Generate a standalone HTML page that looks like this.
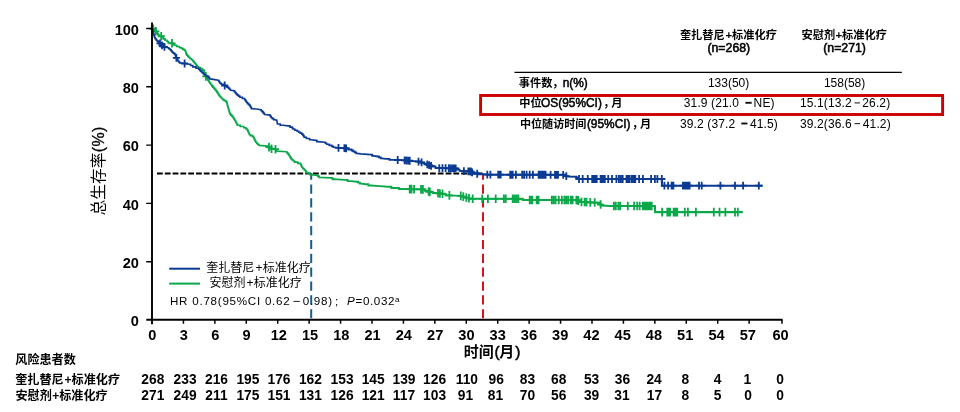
<!DOCTYPE html>
<html lang="zh-CN">
<head>
<meta charset="utf-8">
<title>Kaplan-Meier OS</title>
<style>html,body{margin:0;padding:0;background:#fff}body{width:960px;height:412px;overflow:hidden;font-family:"Liberation Sans","Noto Sans CJK SC",sans-serif}svg{display:block;will-change:transform}text{font-family:"Liberation Sans","Noto Sans CJK SC",sans-serif}</style>
</head>
<body>
<svg width="960" height="412" viewBox="0 0 960 412" font-family="'Liberation Sans', 'Noto Sans CJK SC', sans-serif">
<title>总生存率 Kaplan-Meier 曲线：奎扎替尼+标准化疗 对比 安慰剂+标准化疗</title>
<desc>总生存率(%) 随 时间(月) 变化。事件数，n(%)：133(50) 对 158(58)；中位OS(95%CI)，月：31.9 (21.0−NE) 对 15.1(13.2−26.2)；中位随访时间(95%CI)，月：39.2 (37.2−41.5) 对 39.2(36.6−41.2)。HR 0.78(95%CI 0.62−0.98)；P=0.032。风险患者数见下表。</desc>
<rect width="960" height="412" fill="#fff"/>
<path d="M157 173.4H483.5" stroke="#000" stroke-width="2" stroke-dasharray="5.8 2" fill="none"/>
<path d="M311.2 173V320" stroke="#12608e" stroke-width="2" stroke-dasharray="9.2 4.65" stroke-dashoffset="2.35" fill="none"/>
<path d="M483 174.6V320" stroke="#cf1620" stroke-width="2" stroke-dasharray="9.2 4.65" stroke-dashoffset="3.95" fill="none"/>
<!-- curves -->
<path d="M152.3 28.5L153 28.6H153.95V30.1H154.9H155.38V31.35H156.32V32.6H156.8H157.23V33.67H158.1V34.73H158.97V35.8H159.4L161.9 36.4H162.38V37.65H163.32V38.9H163.8H165.05V40.2H166.3H166.93V41.45H168.18V42.7H168.8L172 43.3H172.78V44.25H174.32V45.2H175.1H176.7V46.5H178.3H179.25V47.45H181.15V48.4H182.1H182.88V49.35H184.43V50.3H185.2H185.42V51.57H185.85V52.83H186.28V54.1H186.5H186.92V55.13H187.75V56.17H188.58V57.2H189H189.8V58.45H191.4V59.7H192.2H192.72V60.97H193.75V62.23H194.78V63.5H195.3H195.72V64.57H196.55V65.63H197.38V66.7H197.8H198.6V67.65H200.2V68.6H201H202.45V70.1H203.9H204.06V71.15H204.38V72.2H204.69V73.25H205.01V74.3H205.32V75.35H205.64V76.4H205.8H206.22V77.67H207.05V78.93H207.88V80.2H208.3H208.62V81.23H209.25V82.27H209.88V83.3H210.2H210.72V84.57H211.75V85.83H212.78V87.1H213.3H213.83V88.37H214.9V89.63H215.97V90.9H216.5H216.82V91.92H217.46V92.94H218.1V93.96H218.74V94.98H219.38V96H219.7H220.32V97.23H221.55V98.47H222.78V99.7H223.4H224.2V100.65H225.8V101.6H226.6H226.73V102.62H226.99V103.64H227.25V104.66H227.51V105.68H227.77V106.7H227.9H228.06V107.73H228.37V108.76H228.69V109.79H229V110.81H229.31V111.84H229.63V112.87H229.94V113.9H230.1H230.72V115.15H231.97V116.4H232.6H233.02V117.67H233.85V118.93H234.68V120.2H235.1H235.36V121.2H235.88V122.2H236.4V123.2H236.92V124.2H237.44V125.2H237.7H240.2V126.5H242.7H243.8V127.75H246V129H247.1H247.36V130.14H247.88V131.28H248.4V132.42H248.92V133.56H249.44V134.7H249.7H250.62V135.65H252.48V136.6H253.4H253.64V137.7H254.11V138.8H254.59V139.9H255.06V141H255.3H255.78V142.25H256.73V143.5H257.2H257.82V144.45H259.07V145.4H259.7L267.9 146.1H268.55V147.35H269.85V148.6H270.5L275.5 149.2H275.82V150.15H276.48V151.1H276.8L286.4 151.8H286.82V152.73H287.65V153.67H288.48V154.6H288.9H289.22V155.7H289.88V156.8H290.52V157.9H291.17V159H291.5H292.12V160.03H293.35V161.07H294.58V162.1H295.2H297.75V163.4H300.3H300.62V164.67H301.25V165.93H301.88V167.2H302.2H302.82V168.45H304.07V169.7H304.7H305.12V170.77H305.95V171.83H306.78V172.9H307.2H308.15V173.8H310.05V174.7H311" fill="none" stroke="#0ba84a" stroke-width="1.6" stroke-linejoin="miter" stroke-linecap="butt"/>
<path d="M311 174.7L317.3 175.4H317.93V176.35H319.18V177.3H319.8L330.6 177.9H332.5V179.2H334.4L344.4 179.8H347.6V181.1H350.8L357.1 181.7H358.05V182.65H359.95V183.6H360.9L365.9 184.2H368.4V185.5H370.9L379.8 186.1L387.6 186.7H391.35V188H395.1H398.9V189H402.7L422.9 189.4H424.8V190.9H426.7H428.6V192.1H430.5H433V193H435.5L443.1 193.8H445.6V195.3H448.1L460.8 195.9H462.38V196.85H465.52V197.8H467.1" fill="none" stroke="#0ba84a" stroke-width="1.85" stroke-linejoin="miter" stroke-linecap="butt"/>
<path d="M467.1 197.8H469V198.8H470.9L521.5 198.8H522.8V200H524.1L577.1 200H578.05V200.95H579.95V201.9H580.9L598.5 202.7H599.03V203.63H600.1V204.57H601.17V205.5H601.7L609.9 206L654.9 206L655.1 212.1L742.8 212.1" fill="none" stroke="#0ba84a" stroke-width="2.1" stroke-linejoin="miter" stroke-linecap="butt"/>
<path d="M153.2 24.46V33.06M149.6 28.76H156.8M155.8 26.98V35.58M152.2 31.28H159.4M161.2 31.93V40.53M157.6 36.23H164.8M172 39V47.6M168.4 43.3H175.6M205.8 72.1V80.7M202.2 76.4H209.4M269 142.86V151.46M265.4 147.16H272.6M271.5 144.42V153.02M267.9 148.72H275.1M275.5 144.9V153.5M271.9 149.2H279.1M409.7 184.84V193.44M406.1 189.14H413.3M411.5 184.87V193.47M407.9 189.17H415.1M414.1 184.93V193.53M410.5 189.23H417.7M421 185.06V193.66M417.4 189.36H424.6M422.9 185.1V193.7M419.3 189.4H426.5M428.6 187.2V195.8M425 191.5H432.2M429.8 187.58V196.18M426.2 191.88H433.4M438 188.96V197.56M434.4 193.26H441.6M439.9 189.16V197.76M436.3 193.46H443.5M442.5 189.44V198.04M438.9 193.74H446.1M449.4 191.06V199.66M445.8 195.36H453M460.8 191.6V200.2M457.2 195.9H464.4M463.3 192.35V200.95M459.7 196.65H466.9M466.4 193.29V201.89M462.8 197.59H470M469 194V202.6M465.4 198.3H472.6M472.7 194.5V203.1M469.1 198.8H476.3M482.2 194.5V203.1M478.6 198.8H485.8M487.9 194.5V203.1M484.3 198.8H491.5M495.7 194.5V203.1M492.1 198.8H499.3M503.9 194.5V203.1M500.3 198.8H507.5M505.8 194.5V203.1M502.2 198.8H509.4M512.7 194.5V203.1M509.1 198.8H516.3M514.6 194.5V203.1M511 198.8H518.2M516.5 194.5V203.1M512.9 198.8H520.1M518.4 194.5V203.1M514.8 198.8H522M529.7 195.7V204.3M526.1 200H533.3M531 195.7V204.3M527.4 200H534.6M532.3 195.7V204.3M528.7 200H535.9M536.7 195.7V204.3M533.1 200H540.3M537.9 195.7V204.3M534.3 200H541.5M538.6 195.7V204.3M535 200H542.2M551.8 195.7V204.3M548.2 200H555.4M553.7 195.7V204.3M550.1 200H557.3M555.6 195.7V204.3M552 200H559.2M558.8 195.7V204.3M555.2 200H562.4M561.9 195.7V204.3M558.3 200H565.5M564.4 195.7V204.3M560.8 200H568M566.3 195.7V204.3M562.7 200H569.9M568.2 195.7V204.3M564.6 200H571.8M570.8 195.7V204.3M567.2 200H574.4M572.6 195.7V204.3M569 200H576.2M576.4 195.7V204.3M572.8 200H580M577.5 195.9V204.5M573.9 200.2H581.1M578.3 196.3V204.9M574.7 200.6H581.9M581.5 197.63V206.23M577.9 201.93H585.1M584.6 197.77V206.37M581 202.07H588.2M586.5 197.85V206.45M582.9 202.15H590.1M590.3 198.03V206.63M586.7 202.33H593.9M594.7 198.23V206.83M591.1 202.53H598.3M600.6 200.24V208.84M597 204.54H604.2M613.9 201.7V210.3M610.3 206H617.5M615.8 201.7V210.3M612.2 206H619.4M618.3 201.7V210.3M614.7 206H621.9M620.2 201.7V210.3M616.6 206H623.8M627.8 201.7V210.3M624.2 206H631.4M634.1 201.7V210.3M630.5 206H637.7M637.2 201.7V210.3M633.6 206H640.8M639.7 201.7V210.3M636.1 206H643.3M642.9 201.7V210.3M639.3 206H646.5M644.2 201.7V210.3M640.6 206H647.8M645.5 201.7V210.3M641.9 206H649.1M646.8 201.7V210.3M643.2 206H650.4M648.1 201.7V210.3M644.5 206H651.7M649.4 201.7V210.3M645.8 206H653M650.7 201.7V210.3M647.1 206H654.3M651.7 201.7V210.3M648.1 206H655.3M662.1 207.8V216.4M658.5 212.1H665.7M667.3 207.8V216.4M663.7 212.1H670.9M668.7 207.8V216.4M665.1 212.1H672.3M670.1 207.8V216.4M666.5 212.1H673.7M673.6 207.8V216.4M670 212.1H677.2M675 207.8V216.4M671.4 212.1H678.6M676.4 207.8V216.4M672.8 212.1H680M677.2 207.8V216.4M673.6 212.1H680.8M684.8 207.8V216.4M681.2 212.1H688.4M687.9 207.8V216.4M684.3 212.1H691.5M695.9 207.8V216.4M692.3 212.1H699.5M713.8 207.8V216.4M710.2 212.1H717.4M719.5 207.8V216.4M715.9 212.1H723.1M725.4 207.8V216.4M721.8 212.1H729M735 207.8V216.4M731.4 212.1H738.6M737.8 207.8V216.4M734.2 212.1H741.4" fill="none" stroke="#0ba84a" stroke-width="1.8"/>
<path d="M152.3 28.5L153 29.5L153.7 33.9H153.9V35.17H154.3V36.43H154.7V37.7H154.9H155.38V38.95H156.32V40.2H156.8H157.28V41.15H158.22V42.1H158.7H159.17V43.05H160.12V44H160.6H161.07V44.95H162.02V45.9H162.5H163.75V47.1H165L168.2 47.8H168.82V48.75H170.07V49.7H170.7H171.17V50.95H172.12V52.2H172.6H173.22V53.15H174.47V54.1H175.1H175.32V55.37H175.75V56.63H176.18V57.9H176.4H176.72V58.93H177.35V59.97H177.98V61H178.3H178.78V61.95H179.72V62.9H180.2L184.6 63.5L189.6 64.2H190.65V65.55H192.75V66.9H193.8H196V68.2H198.2H198.73V69.27H199.8V70.33H200.87V71.4H201.4H201.92V72.43H202.95V73.47H203.98V74.5H204.5H205.3V75.45H206.9V76.4H207.7H208.32V77.65H209.57V78.9H210.2L214.6 79.6L218.4 80.2H218.72V81.23H219.35V82.27H219.98V83.3H220.3H221.25V84.25H223.15V85.2H224.1H225.05V86.15H226.95V87.1H227.9H228.42V88.17H229.45V89.23H230.48V90.3H231L234.2 90.9H234.62V91.97H235.45V93.03H236.28V94.1H236.7H237.33V95.13H238.6V96.17H239.87V97.2H240.5H242.4V98.5H244.3H244.72V99.77H245.55V101.03H246.38V102.3H246.8H247.32V103.33H248.35V104.37H249.38V105.4H249.9H250.22V106.47H250.85V107.53H251.48V108.6H251.8L258.1 109.2L260.7 109.8H261.17V110.73H262.1V111.67H263.03V112.6H263.5H263.82V113.55H264.48V114.5H264.8L269.8 115.1H270.27V116.4H271.22V117.7H271.7H272.35V118.65H273.65V119.6H274.3L276.8 120.2L277.4 124H280.25V125.2H283.1L288.1 125.9H290V127.1H291.9H292.22V128.05H292.88V129H293.2H294.75V130.3H296.3H297.1V131.25H298.7V132.2H299.5H300.27V133.15H301.82V134.1H302.6H302.92V135.13H303.55V136.17H304.18V137.2H304.5H306.4V138.5H308.3H309.6V139.7H310.9L315.9 140.4H316.85V141.6H317.8L324.7 142.3H325.35V143.25H326.65V144.2H327.3H329.15V145.4H331H331.8V146.35H333.4V147.3H334.2L338.6 147.9" fill="none" stroke="#0a3a92" stroke-width="1.6" stroke-linejoin="miter" stroke-linecap="butt"/>
<path d="M338.6 147.9L345.7 148.2H348.25V149.5H350.8H351.57V150.45H353.12V151.4H353.9H354.7V152.35H356.3V153.3H357.1L360.9 153.9L370.9 154.6H372.2V155.8H373.5L377.9 156.5H378.85V157.4H380.75V158.3H381.7L386.3 158.9H389.45V159.8H392.6L402.7 160.2L410.3 160.8L417.9 161.5H420.4V162.7H422.9H424.15V163.65H426.65V164.6H427.9H429.17V165.55H431.72V166.5H433H435.5V168H438L455.7 168.4H456.98V169.65H459.53V170.9H460.8L470.9 171.5H471.52V172.45H472.77V173.4H473.4" fill="none" stroke="#0a3a92" stroke-width="1.85" stroke-linejoin="miter" stroke-linecap="butt"/>
<path d="M473.4 173.4H478.45V174.3H483.5L490 174.7L564.4 174.8H565.05V175.65H566.35V176.5H567L575.8 176.7H576.42V177.85H577.67V179H578.3L661.8 179L662.1 185.7L762.7 185.7" fill="none" stroke="#0a3a92" stroke-width="2.1" stroke-linejoin="miter" stroke-linecap="butt"/>
<path d="M160 39.5V47.3M156.4 43.4H163.6M162 41.5V49.3M158.4 45.4H165.6M164.4 42.91V50.71M160.8 46.81H168M176.4 54V61.8M172.8 57.9H180M184.6 59.6V67.4M181 63.5H188.2M224.7 81.6V89.4M221.1 85.5H228.3M338.5 143.99V151.79M334.9 147.89H342.1M344.4 144.25V152.05M340.8 148.15H348M346.1 144.4V152.2M342.5 148.3H349.7M397.7 156.1V163.9M394.1 160H401.3M404.6 156.45V164.25M401 160.35H408.2M406.5 156.6V164.4M402.9 160.5H410.1M408.4 156.75V164.55M404.8 160.65H412M409.7 156.85V164.65M406.1 160.75H413.3M418.5 157.74V165.54M414.9 161.64H422.1M421.6 158.49V166.29M418 162.39H425.2M427.3 160.47V168.27M423.7 164.37H430.9M429.2 161.18V168.98M425.6 165.08H432.8M431.1 161.89V169.69M427.5 165.79H434.7M439.3 164.13V171.93M435.7 168.03H442.9M442.5 164.2V172M438.9 168.1H446.1M445.6 164.27V172.07M442 168.17H449.2M448.8 164.34V172.14M445.2 168.24H452.4M450.7 164.39V172.19M447.1 168.29H454.3M452.6 164.43V172.23M449 168.33H456.2M454.4 164.47V172.27M450.8 168.37H458M455.7 164.5V172.3M452.1 168.4H459.3M463.9 167.18V174.98M460.3 171.08H467.5M468.3 167.45V175.25M464.7 171.35H471.9M469.6 167.52V175.32M466 171.42H473.2M470.9 167.6V175.4M467.3 171.5H474.5M472.1 168.51V176.31M468.5 172.41H475.7M477.2 169.84V177.64M473.6 173.74H480.8M487.3 170.63V178.43M483.7 174.53H490.9M490.4 170.8V178.6M486.8 174.7H494M498.2 170.81V178.61M494.6 174.71H501.8M499.5 170.81V178.61M495.9 174.71H503.1M500.7 170.81V178.61M497.1 174.71H504.3M510.2 170.83V178.63M506.6 174.73H513.8M511.5 170.83V178.63M507.9 174.73H515.1M512.7 170.83V178.63M509.1 174.73H516.3M515.9 170.83V178.63M512.3 174.73H519.5M522.2 170.84V178.64M518.6 174.74H525.8M524.1 170.85V178.65M520.5 174.75H527.7M526.6 170.85V178.65M523 174.75H530.2M529.7 170.85V178.65M526.1 174.75H533.3M532.9 170.86V178.66M529.3 174.76H536.5M538.6 170.87V178.67M535 174.77H542.2M540 170.87V178.67M536.4 174.77H543.6M541.4 170.87V178.67M537.8 174.77H545M542.8 170.87V178.67M539.2 174.77H546.4M544.2 170.87V178.67M540.6 174.77H547.8M545.6 170.87V178.67M542 174.77H549.2M550.6 170.88V178.68M547 174.78H554.2M555 170.89V178.69M551.4 174.79H558.6M556.5 170.89V178.69M552.9 174.79H560.1M558 170.89V178.69M554.4 174.79H561.6M563.2 170.9V178.7M559.6 174.8H566.8M566.3 172.14V179.94M562.7 176.04H569.9M579 175.1V182.9M575.4 179H582.6M582.7 175.1V182.9M579.1 179H586.3M587.8 175.1V182.9M584.2 179H591.4M592.2 175.1V182.9M588.6 179H595.8M593.7 175.1V182.9M590.1 179H597.3M595.2 175.1V182.9M591.6 179H598.8M596.7 175.1V182.9M593.1 179H600.3M600.6 175.1V182.9M597 179H604.2M602 175.1V182.9M598.4 179H605.6M603.4 175.1V182.9M599.8 179H607M604.8 175.1V182.9M601.2 179H608.4M608.2 175.1V182.9M604.6 179H611.8M612 175.1V182.9M608.4 179H615.6M616.4 175.1V182.9M612.8 179H620M618.9 175.1V182.9M615.3 179H622.5M620.8 175.1V182.9M617.2 179H624.4M622.7 175.1V182.9M619.1 179H626.3M626.5 175.1V182.9M622.9 179H630.1M627.9 175.1V182.9M624.3 179H631.5M629.3 175.1V182.9M625.7 179H632.9M631.5 175.1V182.9M627.9 179H635.1M632.9 175.1V182.9M629.3 179H636.5M634.3 175.1V182.9M630.7 179H637.9M635.3 175.1V182.9M631.7 179H638.9M639.1 175.1V182.9M635.5 179H642.7M642.9 175.1V182.9M639.3 179H646.5M651.1 175.1V182.9M647.5 179H654.7M654.9 175.1V182.9M651.3 179H658.5M657.4 175.1V182.9M653.8 179H661M661.8 175.1V182.9M658.2 179H665.4M664.4 181.8V189.6M660.8 185.7H668M668.1 181.8V189.6M664.5 185.7H671.7M671.6 181.8V189.6M668 185.7H675.2M673.4 181.8V189.6M669.8 185.7H677M682.9 181.8V189.6M679.3 185.7H686.5M684.3 181.8V189.6M680.7 185.7H687.9M685.7 181.8V189.6M682.1 185.7H689.3M687.1 181.8V189.6M683.5 185.7H690.7M688.5 181.8V189.6M684.9 185.7H692.1M689.6 181.8V189.6M686 185.7H693.2M699 181.8V189.6M695.4 185.7H702.6M701.7 181.8V189.6M698.1 185.7H705.3M720.4 181.8V189.6M716.8 185.7H724M735 181.8V189.6M731.4 185.7H738.6M743.1 181.8V189.6M739.5 185.7H746.7M758.8 181.8V189.6M755.2 185.7H762.4" fill="none" stroke="#0a3a92" stroke-width="1.8"/>
<path d="M152 22.4V324.3" stroke="#000" stroke-width="1.9" fill="none"/>
<path d="M146.3 319.7H782.6" stroke="#000" stroke-width="1.9" fill="none"/>
<path d="M146.2 261.7H152M146.2 203.4H152M146.2 145.1H152M146.2 86.8H152M146.2 28.5H152" stroke="#000" stroke-width="1.4" fill="none"/>
<path d="M183.43 319.7V323.8M214.86 319.7V323.8M246.28 319.7V323.8M277.71 319.7V323.8M309.14 319.7V323.8M340.57 319.7V323.8M372 319.7V323.8M403.42 319.7V323.8M434.85 319.7V323.8M466.28 319.7V323.8M497.71 319.7V323.8M529.14 319.7V323.8M560.56 319.7V323.8M591.99 319.7V323.8M623.42 319.7V323.8M654.85 319.7V323.8M686.28 319.7V323.8M717.7 319.7V323.8M749.13 319.7V323.8M782 319.7V323.8" stroke="#000" stroke-width="1.5" fill="none"/>
<text transform="translate(139 325.6) scale(1 1.06)" font-size="14.6" text-anchor="end" font-weight="bold">0</text>
<text transform="translate(139 268) scale(1 1.06)" font-size="14.6" text-anchor="end" font-weight="bold">20</text>
<text transform="translate(139 209.7) scale(1 1.06)" font-size="14.6" text-anchor="end" font-weight="bold">40</text>
<text transform="translate(139 151.4) scale(1 1.06)" font-size="14.6" text-anchor="end" font-weight="bold">60</text>
<text transform="translate(139 93.1) scale(1 1.06)" font-size="14.6" text-anchor="end" font-weight="bold">80</text>
<text transform="translate(139 34.8) scale(1 1.06)" font-size="14.6" text-anchor="end" font-weight="bold">100</text>
<text transform="translate(152.4 340.4) scale(1 1.06)" font-size="14.6" text-anchor="middle" font-weight="bold">0</text>
<text transform="translate(183.83 340.4) scale(1 1.06)" font-size="14.6" text-anchor="middle" font-weight="bold">3</text>
<text transform="translate(215.26 340.4) scale(1 1.06)" font-size="14.6" text-anchor="middle" font-weight="bold">6</text>
<text transform="translate(246.68 340.4) scale(1 1.06)" font-size="14.6" text-anchor="middle" font-weight="bold">9</text>
<text transform="translate(278.81 340.4) scale(1 1.06)" font-size="14.6" text-anchor="middle" font-weight="bold">12</text>
<text transform="translate(310.07 340.4) scale(1 1.06)" font-size="14.6" text-anchor="middle" font-weight="bold">15</text>
<text transform="translate(341.34 340.4) scale(1 1.06)" font-size="14.6" text-anchor="middle" font-weight="bold">18</text>
<text transform="translate(372.6 340.4) scale(1 1.06)" font-size="14.6" text-anchor="middle" font-weight="bold">21</text>
<text transform="translate(403.86 340.4) scale(1 1.06)" font-size="14.6" text-anchor="middle" font-weight="bold">24</text>
<text transform="translate(435.13 340.4) scale(1 1.06)" font-size="14.6" text-anchor="middle" font-weight="bold">27</text>
<text transform="translate(466.39 340.4) scale(1 1.06)" font-size="14.6" text-anchor="middle" font-weight="bold">30</text>
<text transform="translate(497.65 340.4) scale(1 1.06)" font-size="14.6" text-anchor="middle" font-weight="bold">33</text>
<text transform="translate(528.92 340.4) scale(1 1.06)" font-size="14.6" text-anchor="middle" font-weight="bold">36</text>
<text transform="translate(560.18 340.4) scale(1 1.06)" font-size="14.6" text-anchor="middle" font-weight="bold">39</text>
<text transform="translate(591.44 340.4) scale(1 1.06)" font-size="14.6" text-anchor="middle" font-weight="bold">42</text>
<text transform="translate(622.71 340.4) scale(1 1.06)" font-size="14.6" text-anchor="middle" font-weight="bold">45</text>
<text transform="translate(653.97 340.4) scale(1 1.06)" font-size="14.6" text-anchor="middle" font-weight="bold">48</text>
<text transform="translate(685.23 340.4) scale(1 1.06)" font-size="14.6" text-anchor="middle" font-weight="bold">51</text>
<text transform="translate(716.49 340.4) scale(1 1.06)" font-size="14.6" text-anchor="middle" font-weight="bold">54</text>
<text transform="translate(747.76 340.4) scale(1 1.06)" font-size="14.6" text-anchor="middle" font-weight="bold">57</text>
<text transform="translate(780.6 340.4) scale(1 1.06)" font-size="14.6" text-anchor="middle" font-weight="bold">60</text>
<g aria-label="时间(月)" fill="#000">
<text x="463.8" y="356.5" font-size="15" font-weight="bold">时间</text>
<text x="494.54" y="356.5" font-size="15.5" stroke="#000" stroke-width="0.5">(</text>
<text x="499.3" y="356.5" font-size="15" font-weight="bold">月</text>
<text x="515.3" y="356.5" font-size="15.5" stroke="#000" stroke-width="0.5">)</text>
</g>
<g transform="translate(104.2 170.8) rotate(-90)">
<g aria-label="总生存率(%)" fill="#000">
<text x="-44.8" y="0" font-size="15.8">总生存率</text>
<text x="18.48" y="0" font-size="16" letter-spacing="0.45" stroke="#000" stroke-width="0.3">(%)</text>
</g>
</g>
<path d="M169.2 268.7H200" stroke="#0a3a92" stroke-width="2" fill="none"/>
<path d="M169.2 283.6H200" stroke="#0ba84a" stroke-width="2" fill="none"/>
<g aria-label="奎扎替尼+标准化疗" fill="#000">
<text x="206.3" y="271.9" font-size="12">奎扎替尼</text>
<text x="255.5" y="271.9" font-size="12" letter-spacing="0.2">+</text>
<text x="262.7" y="271.9" font-size="12">标准化疗</text>
</g>
<g aria-label="安慰剂+标准化疗" fill="#000">
<text x="209.6" y="286.7" font-size="12">安慰剂</text>
<text x="246.4" y="286.7" font-size="12" letter-spacing="0.3">+</text>
<text x="253.7" y="286.7" font-size="12">标准化疗</text>
</g>
<text x="170" y="305.4" font-size="11.6" letter-spacing="0.75">HR 0.78(95%CI 0.62</text>
<path d="M293.4 301.4H299.8" stroke="#222" stroke-width="1.0" fill="none"/>
<text x="302.7" y="305.4" font-size="11.6" letter-spacing="0.75">0.98)</text>
<text x="335.1" y="304.6" font-size="11.6">;</text>
<text x="346.9" y="305.4" font-size="11.6" font-style="italic">P</text>
<text x="355.6" y="305.4" font-size="11.6" letter-spacing="0.6">=0.032</text>
<text x="395" y="302.2" font-size="8">a</text>
<g aria-label="风险患者数" fill="#000">
<text x="15.3" y="364.4" font-size="12.1" font-weight="bold">风险患者数</text>
</g>
<g aria-label="奎扎替尼+标准化疗" fill="#000">
<text x="15.2" y="384.3" font-size="12.1" font-weight="bold">奎扎替尼</text>
<text x="64.6" y="384.3" font-size="12" font-weight="bold">+</text>
<text x="71.6" y="384.3" font-size="12.1" font-weight="bold">标准化疗</text>
</g>
<g aria-label="安慰剂+标准化疗" fill="#000">
<text x="15.5" y="399.8" font-size="12.1" font-weight="bold">安慰剂</text>
<text x="52.25" y="399.8" font-size="12" font-weight="bold">+</text>
<text x="59.2" y="399.8" font-size="12.1" font-weight="bold">标准化疗</text>
</g>
<text transform="translate(152.8 384) scale(1 1.12)" font-size="13.8" text-anchor="middle" font-weight="bold">268</text>
<text transform="translate(152.8 399.7) scale(1 1.12)" font-size="13.8" text-anchor="middle" font-weight="bold">271</text>
<text transform="translate(185.1 384) scale(1 1.12)" font-size="13.8" text-anchor="middle" font-weight="bold">233</text>
<text transform="translate(185.1 399.7) scale(1 1.12)" font-size="13.8" text-anchor="middle" font-weight="bold">249</text>
<text transform="translate(216.5 384) scale(1 1.12)" font-size="13.8" text-anchor="middle" font-weight="bold">216</text>
<text transform="translate(216.5 399.7) scale(1 1.12)" font-size="13.8" text-anchor="middle" font-weight="bold">211</text>
<text transform="translate(247.9 384) scale(1 1.12)" font-size="13.8" text-anchor="middle" font-weight="bold">195</text>
<text transform="translate(247.9 399.7) scale(1 1.12)" font-size="13.8" text-anchor="middle" font-weight="bold">175</text>
<text transform="translate(279 384) scale(1 1.12)" font-size="13.8" text-anchor="middle" font-weight="bold">176</text>
<text transform="translate(279 399.7) scale(1 1.12)" font-size="13.8" text-anchor="middle" font-weight="bold">151</text>
<text transform="translate(310.4 384) scale(1 1.12)" font-size="13.8" text-anchor="middle" font-weight="bold">162</text>
<text transform="translate(310.4 399.7) scale(1 1.12)" font-size="13.8" text-anchor="middle" font-weight="bold">131</text>
<text transform="translate(342.1 384) scale(1 1.12)" font-size="13.8" text-anchor="middle" font-weight="bold">153</text>
<text transform="translate(342.1 399.7) scale(1 1.12)" font-size="13.8" text-anchor="middle" font-weight="bold">126</text>
<text transform="translate(373.2 384) scale(1 1.12)" font-size="13.8" text-anchor="middle" font-weight="bold">145</text>
<text transform="translate(373.2 399.7) scale(1 1.12)" font-size="13.8" text-anchor="middle" font-weight="bold">121</text>
<text transform="translate(404 384) scale(1 1.12)" font-size="13.8" text-anchor="middle" font-weight="bold">139</text>
<text transform="translate(404 399.7) scale(1 1.12)" font-size="13.8" text-anchor="middle" font-weight="bold">117</text>
<text transform="translate(434.6 384) scale(1 1.12)" font-size="13.8" text-anchor="middle" font-weight="bold">126</text>
<text transform="translate(434.6 399.7) scale(1 1.12)" font-size="13.8" text-anchor="middle" font-weight="bold">103</text>
<text transform="translate(466.9 384) scale(1 1.12)" font-size="13.8" text-anchor="middle" font-weight="bold">110</text>
<text transform="translate(465.4 399.7) scale(1 1.12)" font-size="13.8" text-anchor="middle" font-weight="bold">91</text>
<text transform="translate(496.25 384) scale(1 1.12)" font-size="13.8" text-anchor="middle" font-weight="bold">96</text>
<text transform="translate(495.4 399.7) scale(1 1.12)" font-size="13.8" text-anchor="middle" font-weight="bold">81</text>
<text transform="translate(527.5 384) scale(1 1.12)" font-size="13.8" text-anchor="middle" font-weight="bold">83</text>
<text transform="translate(527.5 399.7) scale(1 1.12)" font-size="13.8" text-anchor="middle" font-weight="bold">70</text>
<text transform="translate(558.75 384) scale(1 1.12)" font-size="13.8" text-anchor="middle" font-weight="bold">68</text>
<text transform="translate(558.75 399.7) scale(1 1.12)" font-size="13.8" text-anchor="middle" font-weight="bold">56</text>
<text transform="translate(591.6 384) scale(1 1.12)" font-size="13.8" text-anchor="middle" font-weight="bold">53</text>
<text transform="translate(591.6 399.7) scale(1 1.12)" font-size="13.8" text-anchor="middle" font-weight="bold">39</text>
<text transform="translate(622.5 384) scale(1 1.12)" font-size="13.8" text-anchor="middle" font-weight="bold">36</text>
<text transform="translate(621.9 399.7) scale(1 1.12)" font-size="13.8" text-anchor="middle" font-weight="bold">31</text>
<text transform="translate(654.1 384) scale(1 1.12)" font-size="13.8" text-anchor="middle" font-weight="bold">24</text>
<text transform="translate(654.4 399.7) scale(1 1.12)" font-size="13.8" text-anchor="middle" font-weight="bold">17</text>
<text transform="translate(685.4 384) scale(1 1.12)" font-size="13.8" text-anchor="middle" font-weight="bold">8</text>
<text transform="translate(685.4 399.7) scale(1 1.12)" font-size="13.8" text-anchor="middle" font-weight="bold">8</text>
<text transform="translate(717.5 384) scale(1 1.12)" font-size="13.8" text-anchor="middle" font-weight="bold">4</text>
<text transform="translate(717.5 399.7) scale(1 1.12)" font-size="13.8" text-anchor="middle" font-weight="bold">5</text>
<text transform="translate(747.25 384) scale(1 1.12)" font-size="13.8" text-anchor="middle" font-weight="bold">1</text>
<text transform="translate(748.1 399.7) scale(1 1.12)" font-size="13.8" text-anchor="middle" font-weight="bold">0</text>
<text transform="translate(780 384) scale(1 1.12)" font-size="13.8" text-anchor="middle" font-weight="bold">0</text>
<text transform="translate(780 399.7) scale(1 1.12)" font-size="13.8" text-anchor="middle" font-weight="bold">0</text>
<path d="M514.5 72.4H901.8" stroke="#000" stroke-width="1.3" fill="none"/>
<rect x="480.6" y="95.5" width="462" height="19" fill="none" stroke="#cc0000" stroke-width="2.9"/>
<g aria-label="奎扎替尼+标准化疗" fill="#000">
<text x="679.9" y="38.5" font-size="11.2" font-weight="bold">奎扎替尼</text>
<text x="725.47" y="38.5" font-size="11.4" font-weight="bold">+</text>
<text x="732.1" y="38.5" font-size="11.2" font-weight="bold">标准化疗</text>
</g>
<g aria-label="安慰剂+标准化疗" fill="#000">
<text x="801.6" y="38.5" font-size="11.2" font-weight="bold">安慰剂</text>
<text x="835.47" y="38.5" font-size="11.4" font-weight="bold">+</text>
<text x="842.1" y="38.5" font-size="11.2" font-weight="bold">标准化疗</text>
</g>
<text x="728.8" y="52" font-size="12.3" text-anchor="middle" stroke="#000" stroke-width="0.55">(n=268)</text>
<text x="844.6" y="52" font-size="12.3" text-anchor="middle" stroke="#000" stroke-width="0.55">(n=271)</text>
<g aria-label="事件数，n(%)" fill="#000">
<text x="518.8" y="87" font-size="11.2" font-weight="bold">事件数，</text>
<text x="562.8" y="87" font-size="11.9" letter-spacing="-0.05" stroke="#000" stroke-width="0.5">n(%)</text>
</g>
<g aria-label="中位OS(95%CI)，月" fill="#000">
<text x="519.3" y="107.1" font-size="11.2" font-weight="bold">中位</text>
<text x="541.1" y="107.1" font-size="11.9" stroke="#000" stroke-width="0.5">OS(95%CI)</text>
<text x="603.3" y="107.1" font-size="11.2" font-weight="bold">，</text>
<text x="611.3" y="107.1" font-size="11.2" font-weight="bold">月</text>
</g>
<g aria-label="中位随访时间(95%CI)，月" fill="#000">
<text x="519.9" y="128" font-size="11.1" font-weight="bold">中位随访时间</text>
<text x="586.9" y="128" font-size="11.9" stroke="#000" stroke-width="0.5">(95%CI)</text>
<text x="631.9" y="128" font-size="11.2" font-weight="bold">，</text>
<text x="639.9" y="128" font-size="11.2" font-weight="bold">月</text>
</g>
<text x="728.6" y="87" font-size="12" text-anchor="middle">133(50)</text>
<text x="844.6" y="87" font-size="12" text-anchor="middle">158(58)</text>
<text x="683.8" y="107.1" font-size="12" letter-spacing="0.12">31.9 (21.0</text>
<path d="M745.4 102.8H751.7" stroke="#111" stroke-width="1.9" fill="none"/>
<text x="753.6" y="107.1" font-size="12" letter-spacing="0.12">NE)</text>
<text x="800" y="107.1" font-size="12" letter-spacing="0.12">15.1(13.2</text>
<path d="M854.6 102.9H860" stroke="#222" stroke-width="1.1" fill="none"/>
<text x="862.3" y="107.1" font-size="12" letter-spacing="0.12">26.2)</text>
<text x="680" y="127.7" font-size="12" letter-spacing="0.12">39.2 (37.2</text>
<path d="M741.3 123.5H747.4" stroke="#111" stroke-width="1.9" fill="none"/>
<text x="749.9" y="127.7" font-size="12" letter-spacing="0.12">41.5)</text>
<text x="800" y="127.7" font-size="12" letter-spacing="0.12">39.2(36.6</text>
<path d="M854.6 123.6H860" stroke="#222" stroke-width="1.1" fill="none"/>
<text x="862.8" y="127.7" font-size="12" letter-spacing="0.12">41.2)</text>
</svg>
</body>
</html>
